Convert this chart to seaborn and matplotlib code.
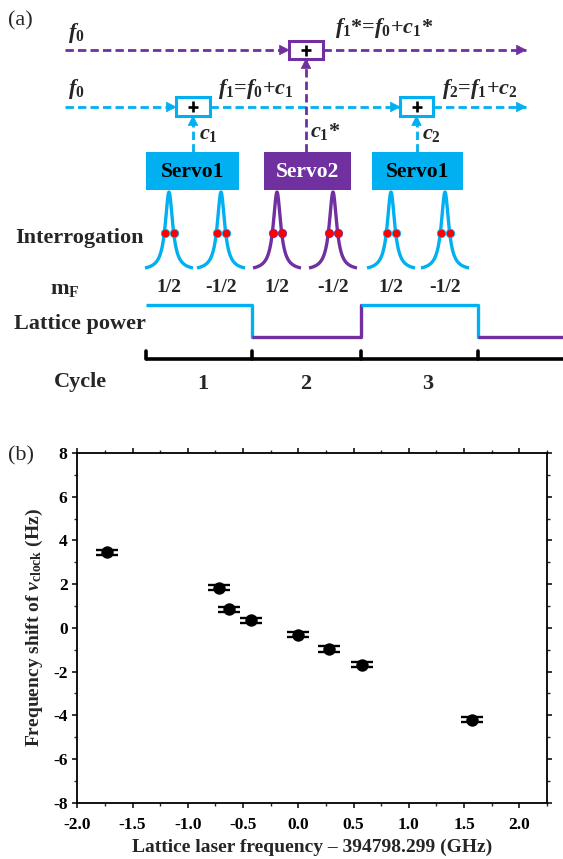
import numpy as np
import pandas as pd
import seaborn as sns
import matplotlib
matplotlib.use('Agg')
import matplotlib.pyplot as plt
from matplotlib.patches import Rectangle, Polygon

# ---------------- data: panel (b) ----------------
lattice_detuning = [-1.73, -0.72, -0.625, -0.425, 0.0, 0.275, 0.577, 1.575]
freq_shift = [3.46, 1.83, 0.84, 0.35, -0.32, -0.97, -1.68, -4.21]
shift_err = [0.12, 0.12, 0.12, 0.12, 0.12, 0.12, 0.12, 0.12]
x_tick_values = [-2.0, -1.5, -1.0, -0.5, 0.0, 0.5, 1.0, 1.5, 2.0]
x_tick_labels = ['-2.0', '-1.5', '-1.0', '-0.5', '0.0', '0.5', '1.0', '1.5', '2.0']
y_tick_values = [-8, -6, -4, -2, 0, 2, 4, 6, 8]
y_tick_labels = ['-8', '-6', '-4', '-2', '0', '2', '4', '6', '8']

# ---------------- data: panel (a) ----------------
servo_names = ['Servo1', 'Servo2', 'Servo1']
servo_kind = ['blue', 'purple', 'blue']
mf_labels = ['1/2', '-1/2', '1/2', '-1/2', '1/2', '-1/2']
curve_kind = ['blue', 'blue', 'purple', 'purple', 'blue', 'blue']
cycle_labels = ['1', '2', '3']
lattice_levels = [1, 0, 1, 0]
lattice_kind = ['blue', 'purple', 'blue', 'purple']
row_labels = ['Interrogation', r'$\mathrm{m}_\mathrm{F}$', 'Lattice power', 'Cycle']

# ---------------- style ----------------
sns.set_style('ticks')
plt.rcParams['font.family'] = ['Liberation Serif', 'DejaVu Serif']
plt.rcParams['font.weight'] = 'bold'
plt.rcParams['axes.labelweight'] = 'bold'
plt.rcParams['mathtext.fontset'] = 'custom'
plt.rcParams['mathtext.rm'] = 'Liberation Serif:bold'
plt.rcParams['mathtext.it'] = 'Liberation Serif:italic:bold'
plt.rcParams['mathtext.bf'] = 'Liberation Serif:bold'
plt.rcParams['axes.unicode_minus'] = False

COL = {'blue': '#00B0F0', 'purple': '#7030A0'}

W, H = 563, 859
fig = plt.figure(figsize=(W / 100, H / 100), dpi=100)

# ================= panel (a): schematic in pixel coordinates =================
axa = fig.add_axes([0, 0, 1, 1])
axa.set_xlim(0, W)
axa.set_ylim(H, 0)
axa.axis('off')

LW = 2.0
DASH = (0, (3.0, 1.5))


def dashed_arrow(x0, y0, x1, y1, color, head=True):
    axa.plot([x0, x1], [y0, y1], color=color, lw=LW, ls=DASH,
             dash_capstyle='butt', zorder=2)
    if head:
        L, Wd = 9.5, 4.8
        d = np.array([x1 - x0, y1 - y0], float)
        d /= np.hypot(*d)
        n = np.array([-d[1], d[0]])
        tip = np.array([x1, y1])
        base = tip - L * d
        axa.add_patch(Polygon([tip, base + Wd * n, base - Wd * n], closed=True,
                              facecolor=color, edgecolor=color, lw=0.5, zorder=3))


def plus_box(xl, xr, yt, yb, color):
    axa.add_patch(Rectangle((xl, yt), xr - xl, yb - yt, facecolor='white',
                            edgecolor=color, lw=2.2, zorder=4))
    cx, cy = (xl + xr) / 2, (yt + yb) / 2
    axa.plot([cx - 5, cx + 5], [cy, cy], color='black', lw=1.9, zorder=5,
             solid_capstyle='butt')
    axa.plot([cx, cx], [cy - 5.5, cy + 5.5], color='black', lw=1.9, zorder=5,
             solid_capstyle='butt')


axa.text(8, 21, '(a)', fontsize=16, fontweight='normal', ha='left', va='center')

# frequency lines
y_top, y_mid = 50, 107
pbox = (289, 323, 41, 59)
bbox1 = (176, 210, 97, 116)
bbox2 = (400, 433, 97, 116)
x_start, x_end = 65, 526

dashed_arrow(x_start, y_top, pbox[0], y_top, COL['purple'])
dashed_arrow(pbox[1], y_top, x_end, y_top, COL['purple'])
dashed_arrow(x_start, y_mid, bbox1[0], y_mid, COL['blue'])
dashed_arrow(bbox1[1], y_mid, bbox2[0], y_mid, COL['blue'])
dashed_arrow(bbox2[1], y_mid, x_end, y_mid, COL['blue'])

# servo boxes
servo_x = [(146, 239), (264, 351), (372, 463)]
servo_y = (152, 190)
box_targets = [bbox1, pbox, bbox2]
for (xl, xr), name, kind, tgt in zip(servo_x, servo_names, servo_kind, box_targets):
    c = COL[kind]
    axa.add_patch(Rectangle((xl, servo_y[0]), xr - xl, servo_y[1] - servo_y[0],
                            facecolor=c, edgecolor='none', zorder=4))
    axa.text((xl + xr) / 2, (servo_y[0] + servo_y[1]) / 2 + 1, name, ha='center',
             va='center', fontsize=15.5, color='white' if kind == 'purple' else 'black',
             zorder=5)
    xv = (tgt[0] + tgt[1]) / 2
    dashed_arrow(xv, servo_y[0], xv, tgt[3], c)

plus_box(*bbox1, COL['blue'])
plus_box(*bbox2, COL['blue'])
plus_box(*pbox, COL['purple'])

# frequency labels
axa.text(68, 33, r'$f_0$', fontsize=16, ha='left', va='center')
axa.text(68, 89, r'$f_0$', fontsize=16, ha='left', va='center')
axa.text(335, 28, r'$f_1$*=$f_0$+$c_1$*', fontsize=16, ha='left', va='center')
axa.text(218, 89, r'$f_1$=$f_0$+$c_1$', fontsize=16, ha='left', va='center')
axa.text(442, 89, r'$f_2$=$f_1$+$c_2$', fontsize=16, ha='left', va='center')
axa.text(199, 134, r'$c_1$', fontsize=16, ha='left', va='center')
axa.text(310, 132, r'$c_1$*', fontsize=16, ha='left', va='center')
axa.text(422, 134, r'$c_2$', fontsize=16, ha='left', va='center')

# interrogation lineshapes
curve_cx = [169, 221, 277, 333, 391, 445]
c_top, c_base, half_w, gam = 192, 268, 24, 4.5
u = np.linspace(-half_w, half_w, 241)
shape = 1.0 / (1.0 + (u / gam) ** 2)
shape = (shape - shape.min()) / (shape.max() - shape.min())
for cx, kind in zip(curve_cx, curve_kind):
    axa.plot(cx + u, c_base - (c_base - c_top) * shape, color=COL[kind], lw=2.4,
             zorder=3, solid_capstyle='butt')
    hy = c_base - (c_base - c_top) * 0.46
    hx = gam
    axa.scatter([cx - hx, cx + hx], [hy, hy], s=36, color='red',
                edgecolor=COL[kind], linewidth=0.6, zorder=4)

# m_F labels
for cx, lab in zip(curve_cx, mf_labels):
    axa.text(cx, 288, lab, fontsize=14, ha='center', va='center')

# lattice power steps
bounds = [146, 252, 361, 478, 563]
y_hi, y_lo = 305, 337
for i, (lev, kind) in enumerate(zip(lattice_levels, lattice_kind)):
    yy = y_hi if lev else y_lo
    axa.plot([bounds[i], bounds[i + 1]], [yy, yy], color=COL[kind], lw=2.4, zorder=3,
             solid_capstyle='butt')
    if i + 1 < len(lattice_levels):
        ny = y_hi if lattice_levels[i + 1] else y_lo
        axa.plot([bounds[i + 1], bounds[i + 1]], [yy, ny], color=COL[kind], lw=2.4,
                 zorder=3)

# cycle axis
y_cyc = 359
axa.plot([bounds[0], W], [y_cyc, y_cyc], color='black', lw=2.6, zorder=3,
         solid_capstyle='butt')
for bx in bounds[:4]:
    axa.plot([bx, bx], [y_cyc, y_cyc - 8], color='black', lw=2.6, zorder=3)
cycle_x = [203, 306, 428]
for cx, lab in zip(cycle_x, cycle_labels):
    axa.text(cx, 384, lab, fontsize=16, ha='center', va='center')

# row labels
axa.text(15, 238, row_labels[0], fontsize=16, ha='left', va='center')
axa.text(50, 289, row_labels[1], fontsize=16, ha='left', va='center')
axa.text(14, 324, row_labels[2], fontsize=16, ha='left', va='center')
axa.text(54, 382, row_labels[3], fontsize=16, ha='left', va='center')

# panel (b) tag
axa.text(8, 456, '(b)', fontsize=16, fontweight='normal', ha='left', va='center')

# ================= panel (b) =================
left, right, top, bottom = 77.3, 547, 453, 802.7
axb = fig.add_axes([left / W, 1 - bottom / H, (right - left) / W, (bottom - top) / H])
df = pd.DataFrame({'x': lattice_detuning, 'y': freq_shift, 'err': shift_err})
axb.errorbar(df['x'], df['y'], yerr=df['err'], fmt='none', ecolor='black',
             elinewidth=1.6, capsize=8.2, capthick=1.7, zorder=2)
sns.scatterplot(data=df, x='x', y='y', ax=axb, color='black', s=80,
                edgecolor='black', linewidth=0, zorder=3, legend=False)
axb.set_xlim(-2.0, 2.25)
axb.set_ylim(-8, 8)
axb.set_xticks(x_tick_values)
axb.set_xticklabels(x_tick_labels)
axb.set_yticks(y_tick_values)
axb.set_yticklabels(y_tick_labels)
axb.set_xticks(np.arange(-2.0, 2.26, 0.25), minor=True)
axb.set_yticks(np.arange(-8, 9, 1), minor=True)
for s in axb.spines.values():
    s.set_linewidth(1.3)
    s.set_color('black')
axb.tick_params(axis='both', which='major', direction='out', length=3.5, width=1.1,
                labelsize=12.5, colors='black')
axb.tick_params(axis='x', which='major', pad=7)
axb.tick_params(axis='y', which='major', pad=3.5)
axb.tick_params(axis='both', which='minor', direction='out', length=2.0, width=1.0)
axb.tick_params(top=True, right=True, which='both')
axb.tick_params(axis='x', which='both', top=True, labeltop=False)
axb.set_xlabel('Lattice laser frequency \u2013 394798.299 (GHz)', fontsize=14,
               fontweight='bold', labelpad=4)
axb.set_ylabel(r'Frequency shift of $\mathit{\nu}_{\mathregular{clock}}$ (Hz)',
               fontsize=14, fontweight='bold', labelpad=6)

fig.savefig('out.png', dpi=100)
